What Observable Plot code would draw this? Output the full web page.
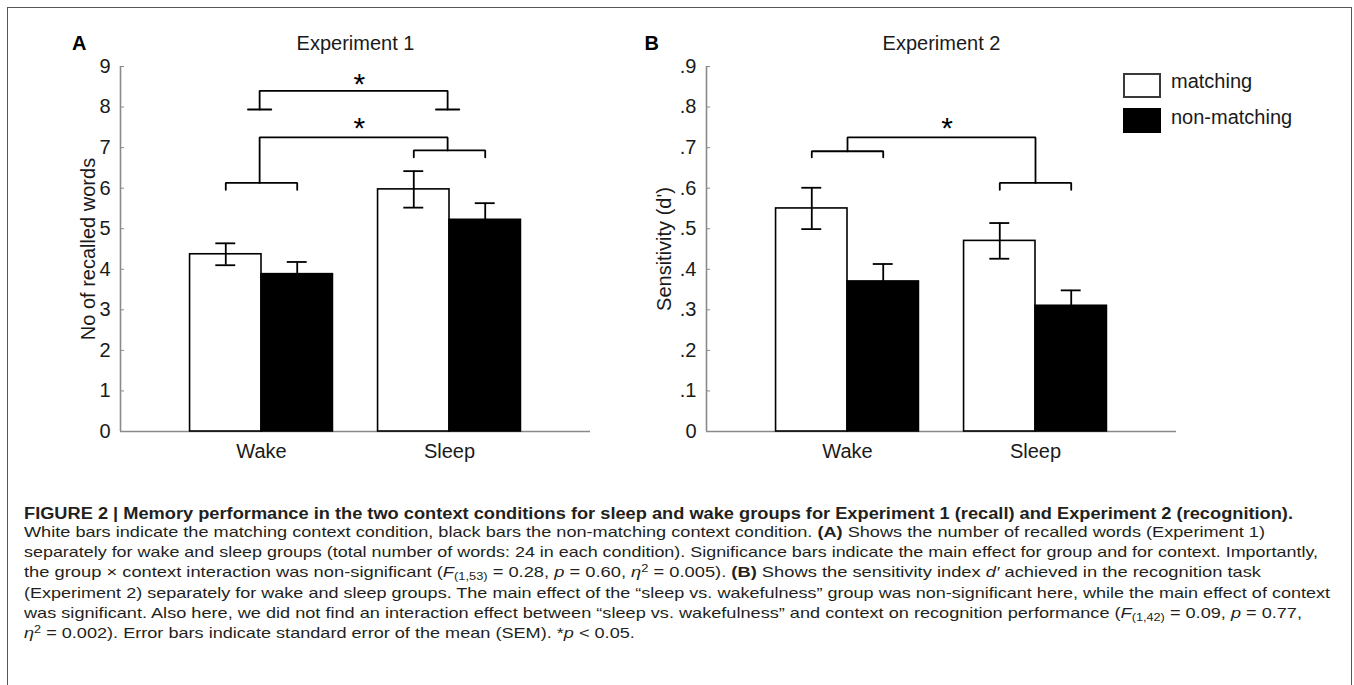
<!DOCTYPE html>
<html><head><meta charset="utf-8">
<script src="https://cdn.jsdelivr.net/npm/d3@7"></script>
<script src="https://cdn.jsdelivr.net/npm/@observablehq/plot@0.6"></script>
<style>
html,body{margin:0;padding:0;background:#fff;}
body{width:1354px;height:685px;position:relative;overflow:hidden;font-family:"Liberation Sans",Arial,Helvetica,sans-serif;color:#1a1a1a;}
#frame{position:absolute;left:7px;top:7px;width:1345px;height:760px;border:1.5px solid #555;box-sizing:border-box;pointer-events:none;}
.panel{position:absolute;top:0;}
.lg-box{position:absolute;width:38px;height:25px;box-sizing:border-box;border:2px solid #3a3a3a;}
.lg-txt{position:absolute;font-size:20px;line-height:20px;white-space:nowrap;color:#1a1a1a;}
.cap{position:absolute;left:24px;white-space:nowrap;transform-origin:0 0;color:#231f20;}
.cap sub{font-size:0.7em;vertical-align:-0.3em;line-height:0;}
.cap sup{font-size:0.7em;vertical-align:0.5em;line-height:0;}
</style></head>
<body>
<div id="panelA" class="panel" style="left:0px"></div>
<div id="panelB" class="panel" style="left:600px"></div>
<div id="legend"></div>
<div id="caption"></div>
<div id="frame"></div>
<script>
// ---------- data ----------
const groups = ["Wake", "Sleep"];
const conditions = ["matching", "non-matching"];

// Experiment 1: number of recalled words (mean, SEM)
const exp1Matching = [4.37, 5.97];
const exp1MatchingSem = [0.27, 0.45];
const exp1NonMatching = [3.88, 5.22];
const exp1NonMatchingSem = [0.30, 0.41];

// Experiment 2: sensitivity d' (mean, SEM)
const exp2Matching = [0.55, 0.47];
const exp2MatchingSem = [0.051, 0.044];
const exp2NonMatching = [0.37, 0.31];
const exp2NonMatchingSem = [0.043, 0.038];

// axis ticks
const exp1Ticks = [0, 1, 2, 3, 4, 5, 6, 7, 8, 9];
const exp2Ticks = [0, 0.1, 0.2, 0.3, 0.4, 0.5, 0.6, 0.7, 0.8, 0.9];

// significance brackets (polylines in data units: x = group position, y = value)
const exp1Brackets = [
  [[0.928, 7.94], [1.052, 7.94]],
  [[0.99, 7.94], [0.99, 8.40], [1.99, 8.40], [1.99, 7.94]],
  [[1.928, 7.94], [2.052, 7.94]],
  [[0.99, 6.13], [0.99, 7.25], [1.99, 7.25], [1.99, 6.93]],
  [[0.81, 5.96], [0.81, 6.13], [1.19, 6.13], [1.19, 5.96]],
  [[1.81, 6.76], [1.81, 6.93], [2.19, 6.93], [2.19, 6.76]]
];
const exp1Stars = [[1.52, 8.69], [1.52, 7.59]];

const exp2Brackets = [
  [[1.0, 0.691], [1.0, 0.725], [2.0, 0.725], [2.0, 0.613]],
  [[0.81, 0.676], [0.81, 0.691], [1.19, 0.691], [1.19, 0.676]],
  [[1.81, 0.596], [1.81, 0.613], [2.19, 0.613], [2.19, 0.596]]
];
const exp2Stars = [[1.53, 0.759]];

const captionLines = [
  '<b>FIGURE 2 | Memory performance in the two context conditions for sleep and wake groups for Experiment 1 (recall) and Experiment 2 (recognition).</b>',
  'White bars indicate the matching context condition, black bars the non-matching context condition. <b>(A)</b> Shows the number of recalled words (Experiment 1)',
  'separately for wake and sleep groups (total number of words: 24 in each condition). Significance bars indicate the main effect for group and for context. Importantly,',
  'the group × context interaction was non-significant (<i>F</i><sub>(1,53)</sub> = 0.28, <i>p</i> = 0.60, <i>η</i><sup>2</sup> = 0.005). <b>(B)</b> Shows the sensitivity index <i>d′</i> achieved in the recognition task',
  '(Experiment 2) separately for wake and sleep groups. The main effect of the “sleep vs. wakefulness” group was non-significant here, while the main effect of context',
  'was significant. Also here, we did not find an interaction effect between “sleep vs. wakefulness” and context on recognition performance (<i>F</i><sub>(1,42)</sub> = 0.09, <i>p</i> = 0.77,',
  '<i>η</i><sup>2</sup> = 0.002). Error bars indicate standard error of the mean (SEM). *<i>p</i> &lt; 0.05.'
];

// ---------- layout constants ----------
const BW = 0.38;        // bar width (x units)
const CAP = 0.053;      // half cap width (x units)
const FONT = '"Liberation Sans", Arial, Helvetica, sans-serif';
const AXIS_GREY = "#8a8a8a";

function rowsFor(m, ms, n, ns) {
  const rows = [];
  groups.forEach((g, i) => {
    [[conditions[0], m[i], ms[i]], [conditions[1], n[i], ns[i]]].forEach(([c, v, e]) => {
      const x1 = (i + 1) + (c === "matching" ? -BW : 0);
      rows.push({group: g, cond: c, mean: v, sem: e, x1, x2: x1 + BW, xc: x1 + BW / 2});
    });
  });
  return rows;
}
function flatten(brackets) {
  return brackets.flatMap((pts, id) => pts.map(([x, y]) => ({id, x, y})));
}

function panel({rows, yDomain, ticks, tickFormat, ylabel, ylabelDx, title, letter, letterDx, brackets, stars, width, marginLeft, marginRight}) {
  const height = 470;
  return Plot.plot({
    width, height,
    marginLeft, marginRight, marginTop: 66, marginBottom: height - 431,
    x: {domain: [0.25, 2.75]},
    y: {domain: yDomain},
    style: {fontFamily: FONT, fontSize: "20px", color: "#1a1a1a", background: "transparent", overflow: "visible"},
    marks: [
      Plot.ruleY([0], {stroke: AXIS_GREY, strokeWidth: 1.6}),
      Plot.ruleX([0.25], {y1: yDomain[0], y2: yDomain[1], stroke: AXIS_GREY, strokeWidth: 1.6}),
      Plot.rectY(rows, {x1: "x1", x2: "x2", y1: 0, y2: "mean", fill: d => d.cond === "matching" ? "white" : "black", stroke: "black", strokeWidth: 1.6}),
      Plot.ruleX(rows, {x: "xc", y1: d => d.mean - d.sem, y2: d => d.mean + d.sem, stroke: "black", strokeWidth: 1.8}),
      Plot.ruleY(rows, {y: d => d.mean + d.sem, x1: d => d.xc - CAP, x2: d => d.xc + CAP, stroke: "black", strokeWidth: 1.8}),
      Plot.ruleY(rows, {y: d => d.mean - d.sem, x1: d => d.xc - CAP, x2: d => d.xc + CAP, stroke: "black", strokeWidth: 1.8}),
      Plot.line(flatten(brackets), {x: "x", y: "y", z: "id", stroke: "black", strokeWidth: 1.8, strokeLinejoin: "miter"}),
      Plot.text(stars, {x: d => d[0], y: d => d[1], text: () => "*", fontSize: 30, dy: 5, fill: "black", lineAnchor: "middle"}),
      Plot.axisY({ticks, tickFormat, tickSize: -4, tickPadding: 14, stroke: AXIS_GREY, fill: "#1a1a1a", label: null, fontSize: 20}),
      Plot.axisX({ticks: [1, 2], tickFormat: d => groups[d - 1], tickSize: 0, tickPadding: 12, label: null, fontSize: 20, fill: "#1a1a1a"}),
      Plot.text([ylabel], {frameAnchor: "left", textAnchor: "middle", lineAnchor: "middle", rotate: -90, dx: ylabelDx, fontSize: 20, fill: "#1a1a1a"}),
      Plot.text([title], {frameAnchor: "top", textAnchor: "middle", lineAnchor: "middle", dy: -22.5, fontSize: 20, fill: "#1a1a1a"}),
      Plot.text([letter], {frameAnchor: "top-left", textAnchor: "start", lineAnchor: "middle", dx: letterDx, dy: -22.5, fontSize: 20, fontWeight: "bold", fill: "black"})
    ]
  });
}

document.getElementById("panelA").append(panel({
  rows: rowsFor(exp1Matching, exp1MatchingSem, exp1NonMatching, exp1NonMatchingSem),
  yDomain: [0, 9], ticks: exp1Ticks, tickFormat: d3.format("d"),
  ylabel: "No of recalled words", ylabelDx: -32,
  title: "Experiment 1", letter: "A", letterDx: -48.6,
  brackets: exp1Brackets, stars: exp1Stars,
  width: 600, marginLeft: 120, marginRight: 10
}));

document.getElementById("panelB").append(panel({
  rows: rowsFor(exp2Matching, exp2MatchingSem, exp2NonMatching, exp2NonMatchingSem),
  yDomain: [0, 0.9], ticks: exp2Ticks, tickFormat: d => d === 0 ? "0" : d3.format(".1f")(d).slice(1),
  ylabel: "Sensitivity (d')", ylabelDx: -41.6,
  title: "Experiment 2", letter: "B", letterDx: -62,
  brackets: exp2Brackets, stars: exp2Stars,
  width: 640, marginLeft: 106, marginRight: 64
}));

// ---------- legend ----------
const legendEl = document.getElementById("legend");
const legendLayout = [{top: 72.7, fill: "white", baseline: 87.5}, {top: 108.3, fill: "black", baseline: 124}];
conditions.forEach((c, i) => {
  const L = legendLayout[i];
  const box = document.createElement("div");
  box.className = "lg-box";
  box.style.left = "1123px"; box.style.top = L.top + "px"; box.style.background = L.fill;
  if (L.fill === "black") box.style.borderColor = "black";
  const t = document.createElement("div");
  t.className = "lg-txt";
  t.textContent = c;
  t.style.left = "1171px"; t.style.top = (L.baseline - 16.9) + "px";
  legendEl.append(box, t);
});

// ---------- caption ----------
const capEl = document.getElementById("caption");
const capBaselines = [519.5, 536.5, 556.8, 577.1, 597.4, 617.7, 638];
const capRight = [1293, 1265, 1318, 1261, 1330, 1302, null];
const scales = [];
captionLines.forEach((html, i) => {
  const d = document.createElement("div");
  d.className = "cap";
  const fs = i === 0 ? 16 : 15;
  d.style.fontSize = fs + "px";
  d.style.lineHeight = fs + "px";
  d.style.top = (capBaselines[i] - (0.905 * fs - (1.117 * fs - fs) / 2)) + "px";
  d.innerHTML = html;
  capEl.append(d);
  const w = d.getBoundingClientRect().width;
  let s;
  if (capRight[i] != null) { s = (capRight[i] - 24) / w; if (i > 0) scales.push(s); }
  else s = d3.mean(scales);
  d.style.transform = `scaleX(${s})`;
});
</script>
</body></html>
